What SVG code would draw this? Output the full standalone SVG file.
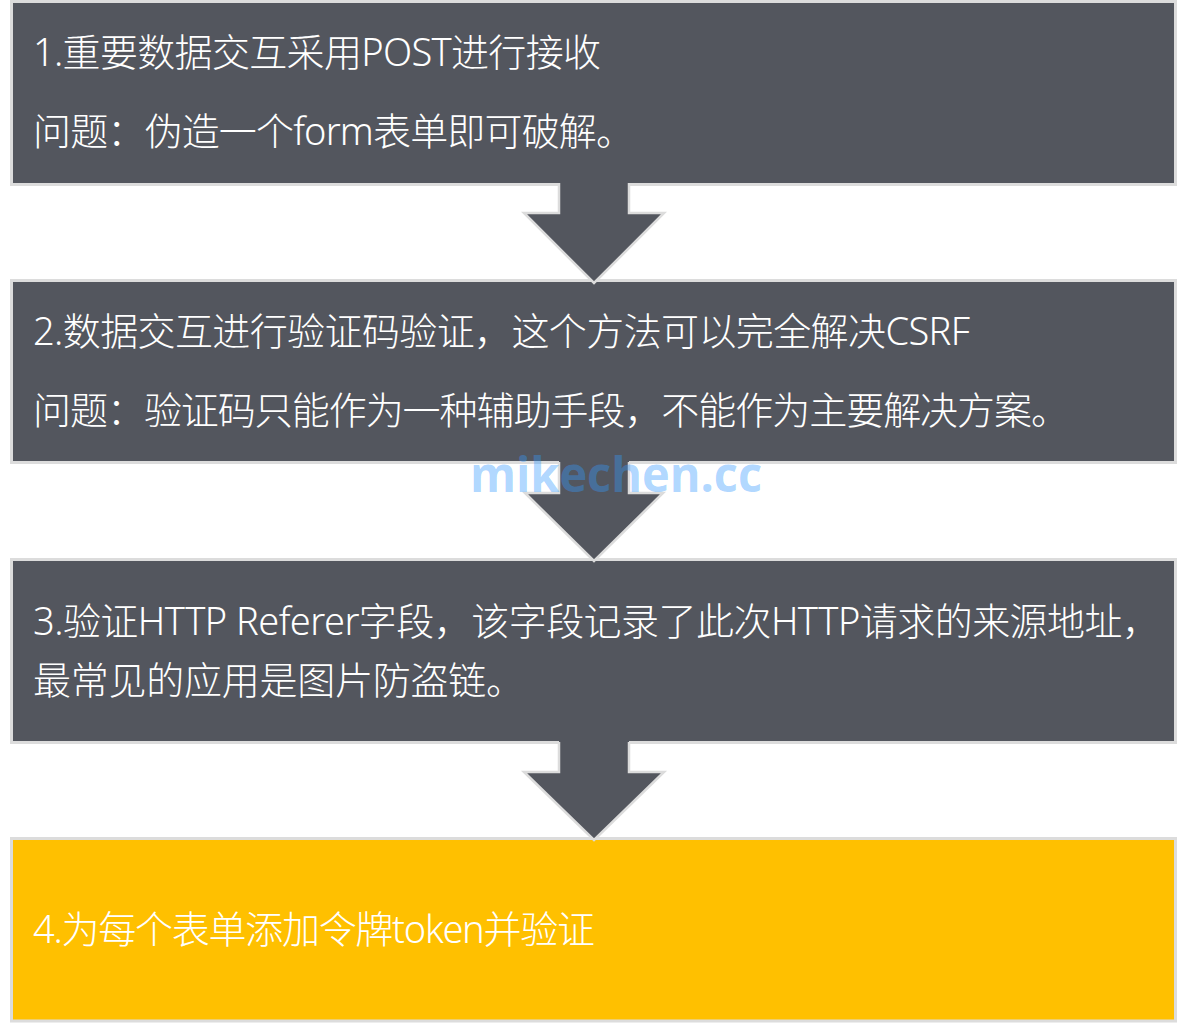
<svg xmlns="http://www.w3.org/2000/svg" width="1187" height="1023" viewBox="0 0 1187 1023">
<style>
.box{fill:#53565e;stroke:#dcdcdc;stroke-width:3}
.box.hl{fill:#ffc000}
.t{font-family:"Noto Sans","Noto Sans CJK SC",sans-serif;font-size:38px;font-weight:300;fill:#ffffff}
.af{fill:#53565e;stroke:none}
.as{fill:none;stroke:#dcdcdc;stroke-width:2.5;stroke-linejoin:miter}
.wm{font-family:"Open Sans","Noto Sans",sans-serif;font-weight:bold;font-size:48px;fill:#3399ff;fill-opacity:0.4}
</style>
<rect width="1187" height="1023" fill="#ffffff"/>
<g id="node1">
<rect class="box" x="11.5" y="1.5" width="1164" height="183"/>
<text class="t" x="33" y="66" textLength="568" lengthAdjust="spacing">1.重要数据交互采用POST进行接收</text>
<text class="t" x="33" y="145" textLength="601" lengthAdjust="spacing">问题：伪造一个form表单即可破解。</text>
</g>
<g id="node2">
<rect class="box" x="11.5" y="280.5" width="1164" height="182"/>
<text class="t" x="33" y="345" textLength="937" lengthAdjust="spacing">2.数据交互进行验证码验证，这个方法可以完全解决CSRF</text>
<text class="t" x="33" y="424" textLength="1036" lengthAdjust="spacing">问题：验证码只能作为一种辅助手段，不能作为主要解决方案。</text>
</g>
<g id="node3">
<rect class="box" x="11.5" y="559.5" width="1164" height="183"/>
<text class="t" x="33" y="635" textLength="1127" lengthAdjust="spacing">3.验证HTTP Referer字段，该字段记录了此次HTTP请求的来源地址，</text>
<text class="t" x="33" y="694" textLength="491" lengthAdjust="spacing">最常见的应用是图片防盗链。</text>
</g>
<g id="node4">
<rect class="box hl" x="11.5" y="838.5" width="1164" height="182.5"/>
<text class="t" x="33" y="943" textLength="562" lengthAdjust="spacing">4.为每个表单添加令牌token并验证</text>
</g>
<g id="connectors">
<g id="arrow1">
<path class="af" d="M559,182 L629,182 L629,213 L664,213 L594,283 L524,213 L559,213 Z"/>
<polyline class="as" points="559,183 559,213 524,213 594,283 664,213 629,213 629,183"/>
</g>
<g id="arrow2">
<path class="af" d="M559,461 L629,461 L629,493 L663,493 L594,561 L525,493 L559,493 Z"/>
<polyline class="as" points="559,462 559,493 525,493 594,561 663,493 629,493 629,462"/>
</g>
<g id="arrow3">
<path class="af" d="M559,741 L629,741 L629,772 L664,772 L594,840 L524,772 L559,772 Z"/>
<polyline class="as" points="559,742 559,772 524,772 594,840 664,772 629,772 629,742"/>
</g>
</g>
<text class="wm" x="616" y="492" text-anchor="middle" textLength="292" lengthAdjust="spacingAndGlyphs">mikechen.cc</text>
</svg>
